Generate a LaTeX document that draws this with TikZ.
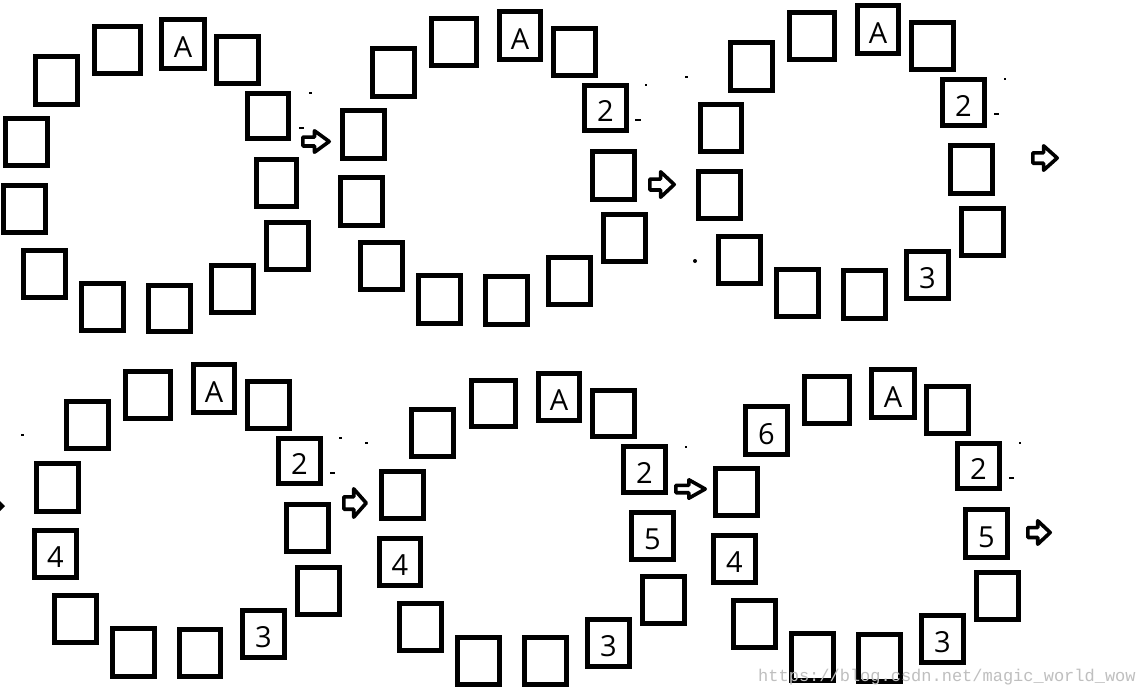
\documentclass[tikz,border=0pt]{standalone}
\usepackage{fontspec}
\newfontfamily\lblfont{Open Sans}
\newfontfamily\wmfont{Liberation Mono}
\tikzset{
  cell/.style={draw=black, line width=4.6, rectangle, inner sep=0pt, line join=miter},
  lbl/.style={inner sep=0pt, font=\lblfont\fontsize{29}{31}\selectfont},
  arrowline/.style={draw=black, fill=white, line width=3.6, line join=round},
  speck/.style={draw=black, line width=1.1},
  watermark/.style={inner sep=0pt, text=black!25, font=\wmfont\fontsize{17}{19}\selectfont}
}
\newcommand\cellbox[6]{%
  \node[cell, minimum width={#4-#2-4.6}, minimum height={#5-#3-4.6}] (#1) at ({(#2+#4)/2},{(#3+#5)/2}) {};
  \def\celltxt{#6}%
  \ifx\celltxt\empty\else
    \node[lbl, anchor=base] (#1t) at ([yshift=-13.5pt]#1.center) {#6};
  \fi
}
\newcommand\blockarrow[4]{%
  \draw[arrowline]
    ({#1+1.8},{(#2+#4)/2-0.25*(#4-#2)+1.8}) --
    ({#1+0.45*(#3-#1)},{(#2+#4)/2-0.25*(#4-#2)+1.8}) --
    ({#1+0.45*(#3-#1)},{#2+1.8}) --
    ({#3-1.8},{(#2+#4)/2}) --
    ({#1+0.45*(#3-#1)},{#4-1.8}) --
    ({#1+0.45*(#3-#1)},{(#2+#4)/2+0.25*(#4-#2)-1.8}) --
    ({#1+1.8},{(#2+#4)/2+0.25*(#4-#2)-1.8}) -- cycle;
}
\begin{document}
\begin{tikzpicture}[x=1pt,y=-1pt]
\fill[white] (0,0) rectangle (1139,694);
\useasboundingbox (0,0) rectangle (1139,694);

% ring 1
\cellbox{r1c1}{159}{17}{207}{71}{A}
\cellbox{r1c2}{214}{34}{261}{86}{}
\cellbox{r1c3}{245}{91}{291}{141}{}
\cellbox{r1c4}{254}{157}{299}{209}{}
\cellbox{r1c5}{264}{220}{311}{272}{}
\cellbox{r1c6}{209}{263}{256}{315}{}
\cellbox{r1c7}{146}{283}{193}{334}{}
\cellbox{r1c8}{79}{281}{126}{333}{}
\cellbox{r1c9}{21}{248}{68}{300}{}
\cellbox{r1c10}{1}{183}{48}{235}{}
\cellbox{r1c11}{3}{116}{50}{168}{}
\cellbox{r1c12}{33}{54}{80}{107}{}
\cellbox{r1c13}{92}{24}{143}{76}{}

% ring 2
\cellbox{r2c1}{497}{9}{543}{62}{A}
\cellbox{r2c2}{551}{26}{598}{78}{}
\cellbox{r2c3}{582}{83}{629}{133}{2}
\cellbox{r2c4}{590}{149}{637}{202}{}
\cellbox{r2c5}{601}{212}{648}{264}{}
\cellbox{r2c6}{546}{255}{593}{307}{}
\cellbox{r2c7}{483}{274}{530}{327}{}
\cellbox{r2c8}{416}{273}{463}{326}{}
\cellbox{r2c9}{358}{240}{405}{292}{}
\cellbox{r2c10}{338}{175}{385}{228}{}
\cellbox{r2c11}{340}{108}{387}{161}{}
\cellbox{r2c12}{370}{46}{417}{99}{}
\cellbox{r2c13}{429}{16}{479}{68}{}

% ring 3
\cellbox{r3c1}{855}{3}{901}{56}{A}
\cellbox{r3c2}{909}{20}{956}{72}{}
\cellbox{r3c3}{940}{77}{987}{128}{2}
\cellbox{r3c4}{948}{143}{995}{196}{}
\cellbox{r3c5}{959}{206}{1006}{258}{}
\cellbox{r3c6}{904}{249}{951}{301}{3}
\cellbox{r3c7}{841}{268}{888}{321}{}
\cellbox{r3c8}{774}{267}{821}{319}{}
\cellbox{r3c9}{716}{234}{763}{286}{}
\cellbox{r3c10}{696}{169}{743}{221}{}
\cellbox{r3c11}{698}{102}{744}{154}{}
\cellbox{r3c12}{728}{40}{775}{93}{}
\cellbox{r3c13}{787}{10}{837}{62}{}

% ring 4
\cellbox{r4c1}{191}{362}{237}{415}{A}
\cellbox{r4c2}{245}{379}{292}{431}{}
\cellbox{r4c3}{276}{436}{323}{486}{2}
\cellbox{r4c4}{284}{502}{331}{554}{}
\cellbox{r4c5}{295}{565}{342}{617}{}
\cellbox{r4c6}{240}{608}{287}{660}{3}
\cellbox{r4c7}{177}{627}{223}{679}{}
\cellbox{r4c8}{110}{626}{157}{679}{}
\cellbox{r4c9}{52}{593}{99}{645}{}
\cellbox{r4c10}{32}{528}{79}{580}{4}
\cellbox{r4c11}{34}{461}{81}{514}{}
\cellbox{r4c12}{64}{399}{111}{451}{}
\cellbox{r4c13}{123}{369}{173}{421}{}

% ring 5
\cellbox{r5c1}{536}{371}{582}{423}{A}
\cellbox{r5c2}{590}{388}{637}{439}{}
\cellbox{r5c3}{621}{444}{668}{495}{2}
\cellbox{r5c4}{629}{510}{676}{562}{5}
\cellbox{r5c5}{640}{574}{687}{626}{}
\cellbox{r5c6}{585}{617}{632}{669}{3}
\cellbox{r5c7}{522}{635}{569}{687}{}
\cellbox{r5c8}{455}{635}{502}{687}{}
\cellbox{r5c9}{397}{601}{444}{653}{}
\cellbox{r5c10}{377}{536}{423}{588}{4}
\cellbox{r5c11}{379}{469}{426}{521}{}
\cellbox{r5c12}{409}{407}{456}{459}{}
\cellbox{r5c13}{469}{378}{518}{429}{}

% ring 6
\cellbox{r6c1}{869}{367}{917}{420}{A}
\cellbox{r6c2}{924}{384}{971}{436}{}
\cellbox{r6c3}{955}{441}{1002}{491}{2}
\cellbox{r6c4}{963}{507}{1010}{560}{5}
\cellbox{r6c5}{974}{570}{1021}{622}{}
\cellbox{r6c6}{919}{613}{966}{665}{3}
\cellbox{r6c7}{856}{632}{903}{684}{}
\cellbox{r6c8}{789}{631}{836}{683}{}
\cellbox{r6c9}{731}{598}{778}{650}{}
\cellbox{r6c10}{711}{533}{758}{585}{4}
\cellbox{r6c11}{713}{466}{760}{518}{}
\cellbox{r6c12}{743}{404}{790}{457}{6}
\cellbox{r6c13}{802}{374}{852}{426}{}

% block arrows
\blockarrow{301}{129}{331}{154}
\blockarrow{648}{170}{676}{199}
\blockarrow{1031}{144}{1059}{172}
\blockarrow{342}{487}{368}{519}
\blockarrow{674}{478}{707}{500}
\blockarrow{1026}{519}{1052}{546}
\fill[black] (0,501) -- (5,506) -- (0,511) -- cycle;

% stray specks
\draw[speck] (309,93) -- (312,93);
\draw[speck] (299,128) -- (304,128);
\draw[speck] (685,77) -- (688,77);
\draw[speck] (645,85) -- (647,85);
\draw[speck] (635,120) -- (641,120);
\draw[speck] (1004,79) -- (1006,79);
\draw[speck] (994,114) -- (999,114);
\draw[speck] (21,435) -- (24,435);
\draw[speck] (339,438) -- (342,438);
\draw[speck] (365,443) -- (368,443);
\draw[speck] (330,473) -- (335,473);
\draw[speck] (685,447) -- (687,447);
\draw[speck] (1019,443) -- (1021,443);
\draw[speck] (1009,478) -- (1014,478);
\fill[black] (695,261) circle (2);

% watermark
\node[watermark, anchor=base west] (wm) at (758,681) {https://blog.csdn.net/magic\_world\_wow};
\end{tikzpicture}
\end{document}
